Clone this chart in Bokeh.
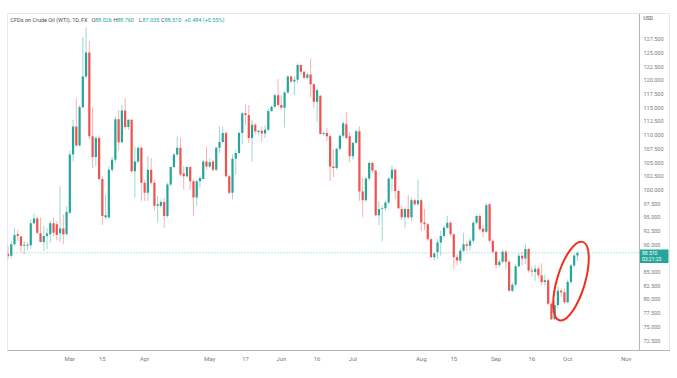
from bokeh.plotting import figure
from bokeh.models import Range1d, FixedTicker, Span, ColumnDataSource
from bokeh.embed import file_html
from bokeh.resources import INLINE
from bokeh.core.properties import value

# ---- data (daily candles, CFDs on Crude Oil WTI, Feb-Oct) ----
opens = [88.3, 88.0, 90.1, 91.9, 91.5, 89.8, 89.8, 89.9, 93.9, 94.8, 92.1, 90.5, 91.6, 91.9, 93.9, 93.75, 92.1, 92.95, 91.9,
         95.85, 106.45, 111.6, 108.1, 115.1, 120.7, 125.1, 109.8, 106.0, 109.5, 102.0, 95.0, 94.95, 103.7, 105.5, 112.9, 108.7, 114.5, 111.5, 112.8, 103.4, 105.2, 107.7,
         101.3, 99.5, 103.7, 101.3, 97.1, 97.1, 97.8, 95.25, 101.0, 104.2, 106.45, 107.7, 103.0, 102.5, 104.2, 101.6, 98.6, 101.6, 102.0, 105.2,
         104.3, 105.2, 103.7, 107.7, 108.75, 110.4, 102.5, 99.5, 105.7, 106.75, 110.4, 114.0, 113.7, 109.5, 111.9, 110.6, 110.8, 110.3, 111.0, 114.4, 115.2, 117.3,
         115.5, 115.0, 117.8, 120.7, 119.8, 120.1, 122.8, 121.6, 120.5, 121.1, 119.3, 116.1, 117.2, 110.2, 110.4, 109.8, 104.3, 104.0, 107.5, 109.9, 112.0, 109.8,
         106.15, 108.6, 110.7, 99.7, 98.1, 102.1, 104.9, 103.55, 95.4, 96.5, 96.65, 97.7, 102.1, 103.7, 99.8, 96.5, 95.0, 96.5, 95.0, 98.1, 97.4,
         98.1, 94.05, 93.75, 91.0, 87.7, 88.6, 90.4, 91.6, 93.1, 94.0, 91.9, 87.7, 87.1, 88.9, 90.1, 89.8, 90.7, 94.0, 95.25, 92.9, 92.35, 97.4, 90.7,
         88.7, 86.3, 86.9, 88.7, 86.9, 81.6, 82.7, 86.05, 88.0, 87.5, 89.2, 85.3, 85.0, 85.6, 84.4, 83.2, 83.5, 79.2, 76.4, 79.0, 81.6, 81.3,
         79.5, 83.2, 86.2, 88.026]
highs = [89.8, 90.7, 93.1, 92.7, 91.6, 90.7, 90.4, 94.6, 95.75, 95.1, 94.95, 93.4, 93.1, 94.35, 94.95, 94.3, 100.7, 95.55, 97.0,
         107.2, 112.8, 116.7, 115.5, 127.9, 129.7, 127.2, 115.1, 109.8, 109.8, 102.5, 99.2, 104.3, 106.1, 113.4, 114.6, 115.5, 116.7, 112.9, 112.9, 107.9, 107.9, 107.9,
         101.9, 106.1, 105.8, 101.9, 98.9, 98.3, 98.6, 101.3, 104.3, 106.75, 109.8, 109.5, 104.3, 104.3, 104.3, 101.9, 101.9, 102.5, 105.5, 107.9,
         105.8, 105.5, 107.9, 111.6, 111.6, 110.7, 102.8, 106.45, 107.35, 110.7, 114.3, 115.65, 115.5, 112.8, 112.2, 111.0, 111.6, 111.8, 114.9, 115.4, 117.6, 120.25,
         117.3, 118.0, 120.9, 120.9, 120.7, 123.1, 122.9, 121.7, 121.4, 124.0, 119.5, 118.55, 117.3, 110.7, 111.3, 110.1, 107.35, 107.7, 110.1, 112.5, 114.2, 110.6,
         108.75, 110.9, 111.6, 102.2, 102.4, 105.2, 105.2, 103.7, 97.95, 97.1, 98.0, 102.35, 104.5, 103.9, 100.1, 97.1, 96.8, 99.1, 98.6, 98.4, 101.9,
         98.4, 96.5, 94.0, 91.3, 88.6, 91.0, 92.5, 93.5, 95.3, 94.3, 92.0, 88.3, 89.3, 92.2, 90.6, 91.2, 94.3, 95.5, 95.6, 93.6, 97.6, 97.6, 91.0,
         88.9, 87.3, 89.1, 89.0, 87.1, 83.1, 86.4, 88.5, 88.7, 90.2, 89.4, 86.0, 86.3, 86.0, 86.6, 84.5, 83.7, 79.5, 79.7, 82.4, 82.0, 82.0,
         83.6, 86.5, 88.3, 88.76]
lows = [87.4, 87.5, 89.8, 90.7, 88.6, 88.3, 88.9, 89.2, 93.7, 91.9, 90.4, 88.9, 89.2, 90.4, 91.6, 90.8, 90.5, 90.1, 91.8,
        95.6, 105.2, 107.95, 107.95, 114.9, 120.4, 109.3, 104.0, 104.3, 101.8, 93.6, 94.6, 94.8, 103.2, 105.0, 107.2, 108.6, 111.0, 111.0, 103.1, 98.6, 104.9, 98.0,
        98.0, 98.0, 101.0, 96.2, 94.05, 96.8, 93.1, 94.95, 100.7, 104.0, 106.1, 102.5, 100.1, 102.2, 100.0, 95.3, 97.1, 100.4, 101.9, 103.7,
        104.0, 103.4, 103.4, 106.75, 108.6, 102.3, 99.2, 98.3, 102.8, 106.5, 108.4, 111.8, 108.6, 105.2, 110.2, 110.0, 108.75, 109.5, 110.7, 114.2, 114.9, 115.2,
        114.7, 111.4, 117.6, 119.5, 117.3, 119.5, 121.0, 120.3, 120.2, 116.9, 114.9, 112.5, 110.1, 109.9, 108.9, 101.6, 102.35, 103.7, 107.1, 109.5, 109.2, 105.1,
        105.55, 108.3, 98.0, 95.1, 97.9, 101.7, 103.1, 95.2, 93.6, 90.6, 96.2, 97.4, 99.8, 98.3, 96.5, 94.5, 93.1, 94.7, 94.4, 97.1, 97.1,
        92.5, 92.7, 90.7, 87.55, 87.1, 87.4, 88.0, 91.2, 92.9, 91.5, 85.6, 86.2, 86.6, 88.7, 88.9, 89.0, 90.2, 93.7, 92.5, 91.3, 92.1, 90.4, 88.4,
        85.6, 85.9, 86.6, 85.5, 81.4, 81.3, 82.5, 85.8, 86.2, 86.4, 84.9, 84.2, 83.4, 83.9, 82.6, 82.5, 78.9, 76.2, 76.2, 78.4, 80.5, 79.2,
        79.3, 82.9, 85.8, 87.035]
closes = [87.9, 90.1, 91.75, 91.6, 89.8, 90.0, 90.0, 93.9, 94.8, 92.2, 90.5, 91.6, 92.05, 93.9, 92.2, 91.75, 92.95, 91.9, 95.95,
          106.45, 111.6, 108.1, 115.1, 120.7, 125.1, 109.8, 106.0, 109.5, 102.0, 95.25, 95.4, 103.7, 105.5, 112.9, 108.7, 114.5, 111.5, 112.8, 103.4, 105.2, 107.7, 101.3,
          99.5, 103.7, 101.3, 97.1, 97.4, 97.8, 95.25, 101.0, 104.2, 106.45, 107.7, 102.8, 102.5, 104.2, 101.6, 98.6, 101.6, 102.2, 105.2, 104.3,
          105.05, 103.7, 107.7, 108.75, 110.4, 102.5, 99.5, 105.7, 106.75, 110.4, 114.0, 113.7, 109.5, 111.9, 110.7, 110.8, 110.3, 111.0, 114.4, 115.2, 117.3, 115.5,
          115.0, 117.8, 120.7, 119.8, 120.1, 122.8, 121.6, 120.5, 121.1, 119.3, 116.1, 118.2, 110.2, 110.4, 109.8, 104.3, 104.0, 107.5, 109.9, 112.2, 109.5, 106.15,
          108.6, 110.7, 99.7, 98.1, 102.1, 104.9, 103.55, 95.4, 96.5, 96.65, 97.7, 102.1, 103.7, 99.8, 96.65, 95.0, 96.5, 95.0, 98.1, 97.4, 98.1,
          94.05, 93.75, 91.0, 87.7, 88.4, 90.4, 91.6, 93.1, 94.0, 91.9, 87.7, 87.1, 88.9, 90.1, 89.8, 90.7, 94.0, 95.25, 92.8, 92.35, 97.2, 90.7, 88.7,
          86.3, 86.9, 88.7, 86.9, 81.6, 82.7, 86.05, 88.0, 87.5, 89.2, 85.3, 85.1, 85.6, 84.4, 83.2, 83.5, 79.2, 76.4, 79.0, 81.6, 81.3, 79.5,
          83.2, 86.2, 88.026, 88.51]

x_tick_pos = [19, 29, 42, 62, 73, 84, 95, 106, 127, 137, 150, 161, 172, 190]
x_tick_labels = ["Mar", "15", "Apr", "May", "17", "Jun", "16", "Jul", "Aug", "15", "Sep", "16", "Oct", "Nov"]
y_ticks = [72.5, 75.0, 77.5, 80.0, 82.5, 85.0, 87.5, 90.0, 92.5, 95.0, 97.5, 100.0, 102.5, 105.0,
           107.5, 110.0, 112.5, 115.0, 117.5, 120.0, 122.5, 125.0, 127.5]
currency = "USD"

title_text = "CFDs on Crude Oil (WTI), 1D, FX"
ohlc_keys = ["O", "H", "L", "C"]
ohlc_vals = ["88.026", "88.760", "87.035", "88.510"]
change_text = "+0.484 (+0.55%)"
countdown = "03:21:23"

UP = "#26a69a"
DOWN = "#ef5350"
GREY = "#787b86"
DARK = "#4a4d57"
FONT = "Roboto"

idx = list(range(len(opens)))
colors = [UP if c >= o else DOWN for o, c in zip(opens, closes)]
src = ColumnDataSource(dict(
    x=idx, o=opens, h=highs, l=lows, c=closes,
    top=[max(o, c) for o, c in zip(opens, closes)],
    bot=[min(o, c) for o, c in zip(opens, closes)],
    color=colors))

# frame: page x 7..670, y 13..352
PXB = 3.254                      # pixels per bar
FX0, FW = 7, 663
FY0, FH = 13, 339
X0 = -0.15
X1 = X0 + FW / PXB
Y0, Y1 = 70.68, 132.22


def px_x(px):
    return X0 + (px - FX0) / PXB


def px_y(py):
    return Y1 - (py - FY0) * (Y1 - Y0) / FH


p = figure(width=670, height=364, output_backend="svg", toolbar_location=None,
           x_range=Range1d(X0, X1), y_range=Range1d(Y0, Y1),
           y_axis_location=None,
           min_border_left=FX0, min_border_right=0, min_border_top=FY0, min_border_bottom=12)
p.background_fill_color = "white"
p.border_fill_color = "white"
p.outline_line_color = "#e6e8ee"
p.xgrid.visible = False
p.ygrid.visible = False

AXIS_X = px_x(639)   # price scale separator

# candles
p.segment(x0="x", y0="l", x1="x", y1="h", source=src, line_color="color", line_alpha=0.45, line_width=1)
p.vbar(x="x", width=0.68, top="top", bottom="bot", source=src, fill_color="color", line_color=None)

# last price dotted line (across the pane only)
p.segment(x0=[X0], y0=[closes[-1]], x1=[AXIS_X], y1=[closes[-1]], line_color=UP, line_dash="1 2",
          line_alpha=0.6, line_width=1)

# price scale (right)
p.add_layout(Span(location=AXIS_X, dimension="height", line_color="#b2b5be", line_width=1))
p.text(x=[px_x(643)] * len(y_ticks), y=y_ticks, text=["%.3f" % t for t in y_ticks],
       text_font=value(FONT), text_font_size="5.5px", text_color=GREY,
       text_baseline="middle", text_align="left")
p.text(x=[px_x(643)], y=[px_y(18)], text=[currency], text_font=value(FONT), text_font_size="5px",
       text_color=DARK, text_baseline="middle", text_align="left")

# last price badge
p.quad(left=[AXIS_X], right=[px_x(668)], top=[px_y(250.5)], bottom=[px_y(264)],
       fill_color=UP, line_color=None)
p.text(x=[px_x(641.5)], y=[closes[-1]], text=["%.3f" % closes[-1]], text_font=value(FONT),
       text_font_size="5px", text_color="white", text_baseline="middle", text_align="left")
p.text(x=[px_x(641.5)], y=[px_y(260)], text=[countdown], text_font=value(FONT),
       text_font_size="5px", text_color="white", text_baseline="middle", text_align="left")

# x axis
xa = p.xaxis[0]
xa.ticker = FixedTicker(ticks=x_tick_pos)
xa.major_label_overrides = {t: s for t, s in zip(x_tick_pos, x_tick_labels)}
xa.major_tick_line_color = None
xa.minor_tick_line_color = None
xa.major_tick_out = 0
xa.major_tick_in = 0
xa.minor_tick_out = 0
xa.major_label_text_font_size = "6px"
xa.major_label_text_color = GREY
xa.major_label_text_font = FONT
xa.major_label_standoff = 4
xa.axis_line_color = "#b2b5be"

# legend header text
TY = px_y(19.5)


def lab(px, txt, color):
    p.text(x=[px_x(px)], y=[TY], text=[txt], text_color=color, text_font_size="5.5px",
           text_font=value(FONT), text_baseline="middle", text_align="left")


lab(10, title_text, DARK)
key_px = [91, 113, 138.5, 160.5]
for kp, k, v in zip(key_px, ohlc_keys, ohlc_vals):
    lab(kp, k, DARK)
    lab(kp + 3.5, v, UP)
lab(184, change_text, UP)

# red highlight ellipse
p.ellipse(x=[px_x(570.5)], y=[px_y(282.2)], width=28, height=82, width_units="screen", height_units="screen",
          angle=-0.29, fill_color=None, line_color="#f0301e", line_width=2)

open("out.html", "w").write(file_html(p, INLINE))
